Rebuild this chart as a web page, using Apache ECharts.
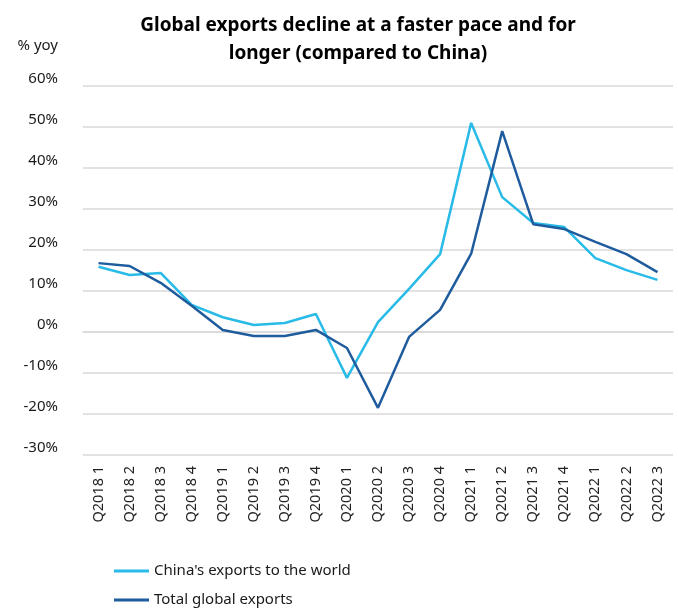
<!DOCTYPE html>
<html>
<head>
<meta charset="utf-8">
<script src="https://cdn.jsdelivr.net/npm/echarts@6/dist/echarts.min.js"></script>
<style>
  html, body { margin: 0; padding: 0; background: #fff; }
  #chart { width: 678px; height: 610px; }
</style>
</head>
<body>
<div id="chart"></div>
<script>
// Quarterly categories
const quarters = [
  'Q2018 1', 'Q2018 2', 'Q2018 3', 'Q2018 4',
  'Q2019 1', 'Q2019 2', 'Q2019 3', 'Q2019 4',
  'Q2020 1', 'Q2020 2', 'Q2020 3', 'Q2020 4',
  'Q2021 1', 'Q2021 2', 'Q2021 3', 'Q2021 4',
  'Q2022 1', 'Q2022 2', 'Q2022 3'
];

// Year-on-year growth, %
const chinaExports = [
  15.9, 13.9, 14.4, 6.6, 3.6, 1.7, 2.2, 4.4, -11.2, 2.4,
  10.5, 19.0, 51.0, 32.9, 26.6, 25.6, 18.0, 15.1, 12.7
];
const globalExports = [
  16.8, 16.1, 12.0, 6.4, 0.5, -1.0, -1.0, 0.5, -3.9, -18.5,
  -1.2, 5.4, 19.1, 49.0, 26.3, 25.1, 22.0, 19.0, 14.6
];

const seriesNames = ["China's exports to the world", 'Total global exports'];
const titleText = 'Global exports decline at a faster pace and for\nlonger (compared to China)';
const yUnit = '% yoy';

const FONT = '"Noto Sans", "Open Sans", sans-serif';

const chart = echarts.init(document.getElementById('chart'));
chart.setOption({
  animation: false,
  backgroundColor: '#ffffff',
  title: {
    text: titleText,
    left: 353,
    textAlign: 'center',
    top: 7,
    textStyle: {
      fontFamily: FONT,
      fontSize: 19,
      fontWeight: 'bold',
      color: '#000',
      lineHeight: 28
    }
  },
  legend: {
    orient: 'vertical',
    left: 114,
    top: 562,
    height: 48,
    padding: 0,
    itemWidth: 35,
    itemHeight: 3,
    itemGap: 11,
    icon: 'rect',
    textStyle: { fontFamily: FONT, fontSize: 15, color: '#1a1a1a', lineHeight: 18 },
    data: seriesNames
  },
  grid: { left: 83, right: 5, top: 86, bottom: 155, containLabel: false },
  xAxis: {
    type: 'category',
    data: quarters,
    boundaryGap: true,
    axisLine: { show: true, lineStyle: { color: '#d9d9d9', width: 1.5 } },
    axisTick: { show: false },
    axisLabel: {
      rotate: 90,
      margin: 11,
      fontFamily: FONT,
      fontSize: 14.5,
      color: '#222',
      interval: 0
    }
  },
  yAxis: {
    type: 'value',
    min: -30,
    max: 60,
    interval: 10,
    name: yUnit,
    nameLocation: 'end',
    nameGap: 33,
    nameTextStyle: { fontFamily: FONT, fontSize: 15, color: '#1a1a1a', align: 'right', padding: [0, 25, 0, 0] },
    axisLine: { show: false },
    axisTick: { show: false },
    splitLine: { lineStyle: { color: '#d9d9d9', width: 1.5 } },
    axisLabel: {
      margin: 25,
      fontFamily: FONT,
      fontSize: 15,
      color: '#1a1a1a',
      verticalAlign: 'bottom',
      formatter: v => v + '%'
    }
  },
  series: [
    {
      name: seriesNames[0],
      type: 'line',
      data: chinaExports,
      symbol: 'none',
      lineStyle: { color: '#29bbe8', width: 2.5 },
      itemStyle: { color: '#29bbe8' },
      z: 2
    },
    {
      name: seriesNames[1],
      type: 'line',
      data: globalExports,
      symbol: 'none',
      lineStyle: { color: '#1f5c9e', width: 2.5 },
      itemStyle: { color: '#1f5c9e' },
      z: 3
    }
  ]
});
</script>
</body>
</html>
